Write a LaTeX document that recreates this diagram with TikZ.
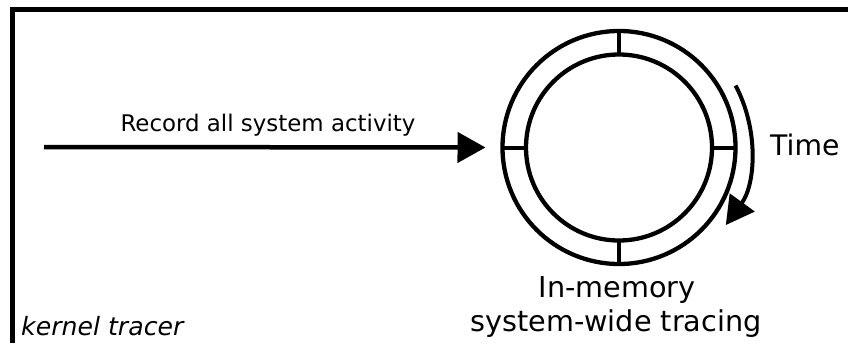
\documentclass[tikz,border=0pt]{standalone}
\usepackage{fontspec}
\setmainfont{DejaVu Sans}
\usetikzlibrary{arrows.meta}
\begin{document}
\begin{tikzpicture}[x=1pt,y=-1pt,
  frame/.style={line width=5pt,line join=miter},
  ring/.style={circle,draw,line width=4.3pt,inner sep=0pt,outer sep=0pt},
  tick/.style={line width=4pt},
  flow/.style={line width=4.5pt,-{Triangle[length=28pt,width=30pt]}},
  lbl/.style={inner sep=0pt,anchor=base}]
\useasboundingbox (0,0) rectangle (848,343);

% open frame: left and top edges only
\draw[frame] (12,343) -- (12,9.5) -- (848,9.5);

% ring buffer
\node[ring,minimum size=233pt] (outer) at (619,147.5) {};
\node[ring,minimum size=186pt] (inner) at (619,147.5) {};
\draw[tick] (inner.north) -- (outer.north);
\draw[tick] (inner.south) -- (outer.south);
\draw[tick] (inner.west) -- (outer.west);
\draw[tick] (inner.east) -- (outer.east);

% incoming events
\coordinate (src) at (44,147);
\draw[flow,shorten >=17pt] (src) -- (outer.west);
\node[lbl] (rec) at (268,131.7) {\fontsize{22.9}{27}\selectfont Record all system activity};

% direction of time around the ring
\draw[flow,line width=4pt] (outer.center) ++(-28:132) arc[start angle=-28,end angle=36,radius=132];
\node[lbl,anchor=base west] (time) at (770,155) {\fontsize{28.3}{34}\selectfont Time};

% captions
\node[lbl] (memA) at (617,297) {\fontsize{28.7}{34}\selectfont In-memory};
\node[lbl] (memB) at (616,331) {\fontsize{28.7}{34}\selectfont system-wide tracing};
\node[lbl,anchor=base west] (kt) at (21,335) {\fontsize{25.2}{30}\selectfont\itshape kernel tracer};
\end{tikzpicture}
\end{document}
